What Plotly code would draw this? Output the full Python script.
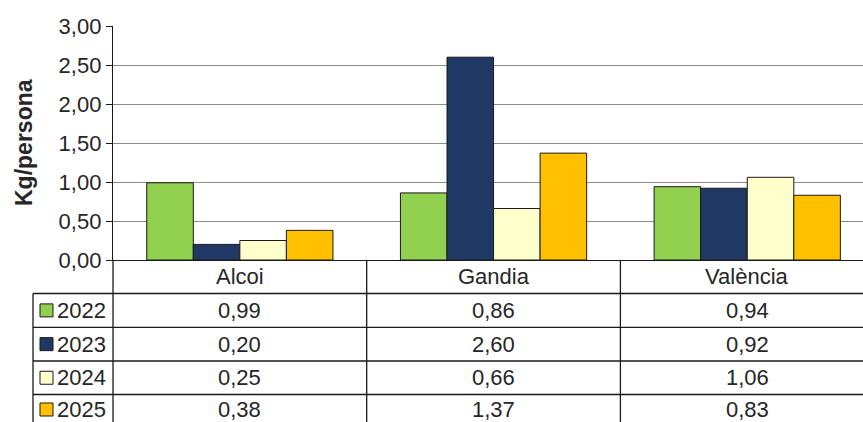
import plotly.graph_objects as go

categories = ["Alcoi", "Gandia", "València"]
years = ["2022", "2023", "2024", "2025"]
v2022 = [0.99, 0.86, 0.94]
v2023 = [0.20, 2.60, 0.92]
v2024 = [0.25, 0.66, 1.06]
v2025 = [0.38, 1.37, 0.83]
series = [v2022, v2023, v2024, v2025]
colors = ["#92D050", "#1F3864", "#FFFFCC", "#FFC000"]

W, H = 863, 422
L, T = 113, 26
PW, PH = 750, 234
FONT = "Liberation Sans, Arial, sans-serif"
TXT = "#262626"
FS = 22

def px_x(p):
    return (p - L) / PW

def px_y(p):
    return (T + PH - p) / PH

fig = go.Figure()
for name, vals, col in zip(years, series, colors):
    fig.add_trace(go.Bar(x=list(range(len(categories))), y=vals, name=name,
                         marker=dict(color=col, line=dict(color="#1a1a1a", width=1)),
                         hoverinfo="y"))

xmax = -0.5 + PW / 253.7

fig.update_layout(
    width=W, height=H,
    margin=dict(l=L, r=W - L - PW, t=T, b=H - T - PH, autoexpand=False),
    paper_bgcolor="white", plot_bgcolor="white",
    barmode="group", bargap=0.266, bargroupgap=0,
    showlegend=False,
    separators=",.",
    font=dict(family=FONT, color=TXT, size=FS),
    xaxis=dict(range=[-0.5, xmax], showticklabels=False, showgrid=False,
               zeroline=False, showline=True, linecolor="#1a1a1a", linewidth=1.3,
               ticks="", automargin=False),
    yaxis=dict(range=[0, 3], dtick=0.5, tickformat=".2f", showgrid=True,
               gridcolor="#8c8c8c", gridwidth=1, zeroline=False, showline=True,
               linecolor="#1a1a1a", linewidth=1.3, ticks="outside", ticklen=6,
               tickcolor="#1a1a1a", tickfont=dict(size=FS, color=TXT, family=FONT),
               automargin=False),
)

shapes = []
line = dict(color="#1a1a1a", width=1.3)
row_edges = [260, 293.5, 327.3, 361, 394.5]
for e in row_edges[1:]:
    shapes.append(dict(type="line", xref="paper", yref="paper",
                       x0=px_x(33), x1=1, y0=px_y(e), y1=px_y(e), line=line))
shapes.append(dict(type="line", xref="paper", yref="paper",
                   x0=0, x1=0, y0=px_y(260), y1=px_y(430), line=line))
shapes.append(dict(type="line", xref="paper", yref="paper",
                   x0=px_x(33), x1=px_x(33), y0=px_y(293.5), y1=px_y(430), line=line))
for b in [0.5, 1.5]:
    shapes.append(dict(type="line", xref="x", yref="paper",
                       x0=b, x1=b, y0=px_y(260), y1=px_y(430), line=line))

annotations = [dict(x=px_x(24), y=px_y(143), xref="paper", yref="paper",
                    text="<b>Kg/persona</b>", textangle=-90, showarrow=False,
                    xanchor="center", yanchor="middle",
                    font=dict(size=23, family=FONT, color=TXT))]
hdr_c = (260 + 293.5) / 2
for i, c in enumerate(categories):
    annotations.append(dict(x=i, y=px_y(hdr_c), xref="x", yref="paper", text=c,
                            showarrow=False, xanchor="center", yanchor="middle",
                            font=dict(size=FS, family=FONT, color=TXT)))
row_centers = [(row_edges[k] + (row_edges[k + 1] if k + 1 < len(row_edges) else 424.5)) / 2
               for k in range(1, len(row_edges))]
for r, (name, vals, col) in enumerate(zip(years, series, colors)):
    yc = row_centers[r]
    shapes.append(dict(type="rect", xref="paper", yref="paper",
                       x0=px_x(40), x1=px_x(53), y0=px_y(yc - 6.5), y1=px_y(yc + 6.5),
                       fillcolor=col, line=dict(color="#1a1a1a", width=1)))
    annotations.append(dict(x=px_x(55), y=px_y(yc), xref="paper", yref="paper", text=name,
                            showarrow=False, xanchor="left", yanchor="middle",
                            font=dict(size=FS, family=FONT, color=TXT)))
    for i, v in enumerate(vals):
        annotations.append(dict(x=i, y=px_y(yc), xref="x", yref="paper",
                                text=f"{v:.2f}".replace(".", ","),
                                showarrow=False, xanchor="center", yanchor="middle",
                                font=dict(size=FS, family=FONT, color=TXT)))

fig.update_layout(shapes=shapes, annotations=annotations)
fig.write_html("out.html", config={"displayModeBar": False},
               post_script="document.body.style.margin='0';document.body.style.overflow='hidden';")
